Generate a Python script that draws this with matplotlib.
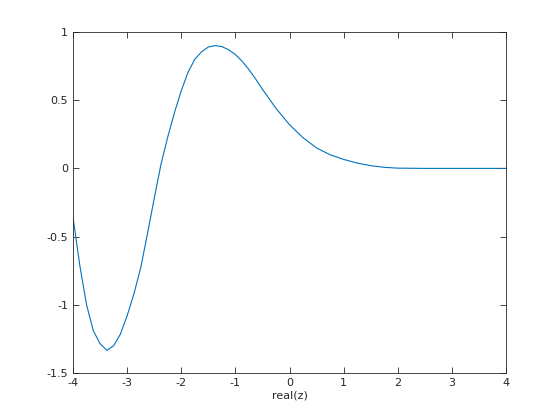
import matplotlib
matplotlib.use("Agg")
import matplotlib.pyplot as plt

# values
x = [-4.0, -3.875, -3.75, -3.625, -3.5, -3.375, -3.25, -3.125, -3.0,
     -2.875, -2.75, -2.625, -2.5, -2.375, -2.25, -2.125, -2.0, -1.875,
     -1.75, -1.625, -1.5, -1.375, -1.25, -1.125, -1.0, -0.875, -0.75,
     -0.625, -0.5, -0.25, 0.0, 0.25, 0.5, 0.75, 1.0, 1.25, 1.5, 1.75,
     2.0, 2.5, 3.0, 3.5, 4.0]
y = [-0.36, -0.71, -1.0, -1.19, -1.285, -1.334, -1.30, -1.215, -1.08,
     -0.92, -0.73, -0.48, -0.22, 0.03, 0.23, 0.41, 0.57, 0.705,
     0.80, 0.855, 0.89, 0.90, 0.893, 0.87, 0.835, 0.785, 0.725,
     0.655, 0.58, 0.44, 0.32, 0.225, 0.15, 0.10, 0.066, 0.039, 0.02, 0.008,
     0.002, 0.0, 0.0, 0.0, 0.0]

xticks = [-4, -3, -2, -1, 0, 1, 2, 3, 4]
yticks = [-1.5, -1, -0.5, 0, 0.5, 1]
ytick_labels = ["-1.5", "-1", "-0.5", "0", "0.5", "1"]

fig = plt.figure(figsize=(5.6, 4.2), dpi=100)
ax = fig.add_axes([0.1304, 0.1119, 0.7732, 0.8119])
ax.plot(x, y, color="#0072BD", linewidth=0.8)

ax.set_xlim(-4, 4)
ax.set_ylim(-1.5, 1)
ax.set_xticks(xticks)
ax.set_xticklabels([str(t) for t in xticks])
ax.set_yticks(yticks)
ax.set_yticklabels(ytick_labels)
ax.tick_params(direction="in", top=True, right=True, labelsize=8,
               colors="#262626", length=4, width=0.6)
for s in ax.spines.values():
    s.set_color("#262626")
    s.set_linewidth(0.6)
ax.set_xlabel("real(z)", fontsize=8, color="#262626", labelpad=2)

fig.savefig("out.png", dpi=100)
